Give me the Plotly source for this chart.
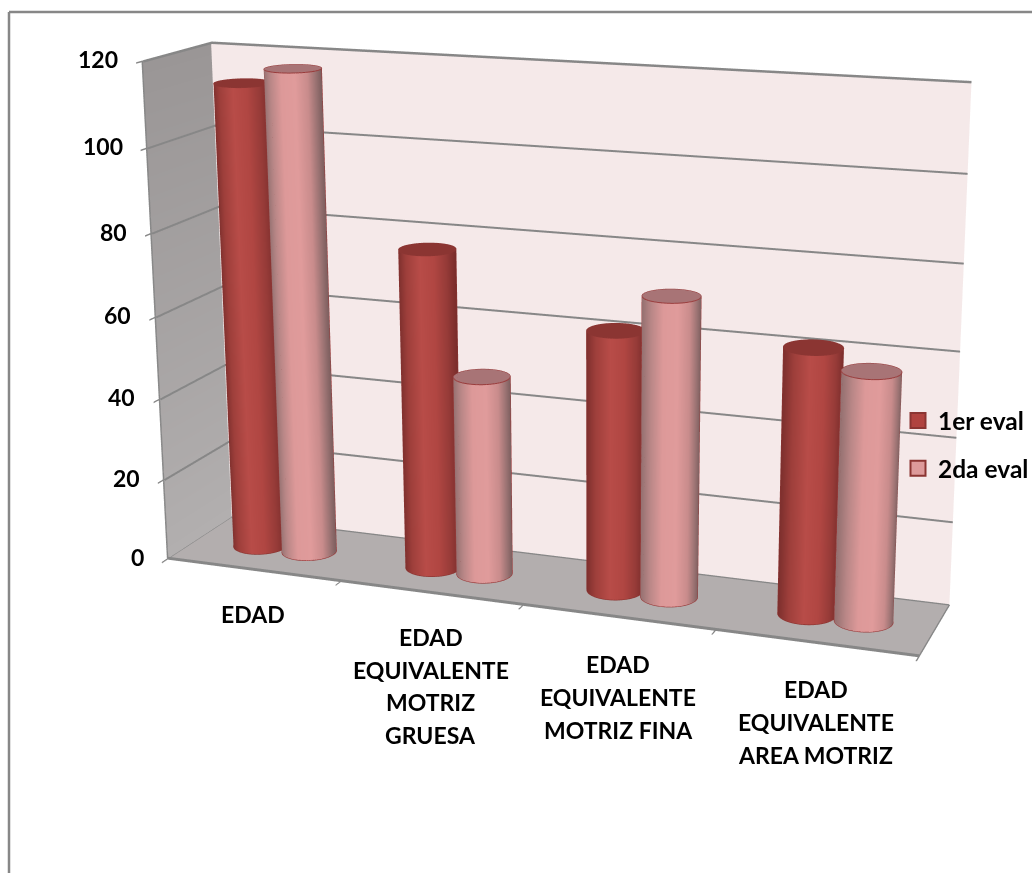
import numpy as np
import plotly.graph_objects as go

categories = ["EDAD", "EDAD<br>EQUIVALENTE<br>MOTRIZ<br>GRUESA",
              "EDAD<br>EQUIVALENTE<br>MOTRIZ FINA", "EDAD<br>EQUIVALENTE<br>AREA MOTRIZ"]
eval_1 = [113.5, 77.5, 62.2, 62.4]
eval_2 = [117.5, 48.3, 71.3, 58.2]
series_names = ["1er eval", "2da eval"]
z_ticks = [0, 20, 40, 60, 80, 100, 120]

# A long lens needs a canvas larger than the page; the div is offset so the
# visible part of the canvas is the 1032x873 window.
W, H = 2000, 2000
LEFT, TOP = 404, 625
EYE = [1.571, -4.147, 1.166]
CENTER = [0.095, 0.011, -0.075]
ASPECT_X, ASPECT_Y = 1.529, 0.272
UP_X = -0.001


def px(x):
    return (x + LEFT) / W


def py(y):
    return 1 - (y + TOP) / H


FLAT = dict(ambient=1, diffuse=0, specular=0, fresnel=0)
GRID = "#878787"
R = 0.0358 * ASPECT_X
dx = R / (ASPECT_X / 4)
dy = R / ASPECT_Y
th = np.linspace(0, 2 * np.pi, 181)
view = np.arctan2(EYE[1] - CENTER[1], EYE[0] - CENTER[0])

fig = go.Figure()


def line3d(x, y, z, color=GRID, width=4):
    fig.add_scatter3d(x=x, y=y, z=z, mode="lines", line=dict(color=color, width=width),
                      hoverinfo="skip", showlegend=False)


def cylinder(cx, cy, value, stops, top, edge):
    """One bar: shaded side, flat cap, rim lines and silhouette lines."""
    ring_x = cx + dx * np.cos(th)
    ring_y = cy + dy * np.sin(th)
    shade = np.sin(th - view)
    fig.add_surface(x=np.vstack([ring_x, ring_x]), y=np.vstack([ring_y, ring_y]),
                    z=np.outer([0, value], np.ones(len(th))),
                    surfacecolor=np.vstack([shade, shade]), cmin=-1, cmax=1,
                    colorscale=stops, showscale=False, lighting=FLAT, hoverinfo="skip")
    rr = np.array([0.0, 1.0])
    fig.add_surface(x=cx + np.outer(rr, dx * np.cos(th)), y=cy + np.outer(rr, dy * np.sin(th)),
                    z=np.full((2, len(th)), value), surfacecolor=np.zeros((2, len(th))),
                    colorscale=[[0, top], [1, top]], showscale=False, lighting=FLAT, hoverinfo="skip")
    for level in (value, 0):
        line3d(ring_x, ring_y, np.full(len(th), level), edge, 2)
    for side in (view - np.pi / 2, view + np.pi / 2):
        line3d([cx + dx * np.cos(side)] * 2, [cy + dy * np.sin(side)] * 2, [0, value], edge, 2)


# Left wall with its vertical gradient
zz = np.array([[0.0, 0.0], [120.0, 120.0]])
fig.add_surface(x=np.zeros((2, 2)), y=np.array([[0, 1], [0, 1]]), z=zz, surfacecolor=zz, cmin=0, cmax=120,
                colorscale=[[0, "#b2afaf"], [1, "#9a9696"]], showscale=False, lighting=FLAT, hoverinfo="skip")

# Gridlines along the left and back walls, plus the outer edges of the box
for t in z_ticks[1:-1]:
    line3d([0.006, 0.006, 4], [0, 0.997, 0.997], [t, t, t])
line3d([0.006, 0.006, 4], [0, 0.997, 0.997], [120, 120, 120], GRID, 5)
line3d([0, 4], [0.003, 0.003], [0.2, 0.2], GRID, 5)

stops_1 = [[0, "#7e302e"], [0.15, "#9e3f3b"], [0.4, "#b84c48"], [0.65, "#b04642"], [0.85, "#963b38"], [1, "#7a2d2b"]]
stops_2 = [[0, "#957171"], [0.15, "#b98787"], [0.35, "#dd9999"], [0.6, "#e09b9b"], [0.8, "#c98c8c"],
           [0.93, "#9a7272"], [1, "#7f6060"]]
for i in range(len(categories)):
    cylinder(i + 0.362, 0.5, eval_1[i], stops_1, "#8b3532", "#8b3532")
    cylinder(i + 0.648, 0.5, eval_2[i], stops_2, "#a87476", "#993c3c")

# Legend entries
for name, col in zip(series_names, ["#b0433f", "#dd9a9a"]):
    fig.add_scatter3d(x=[None], y=[None], z=[None], mode="markers", name=name, legendgroup=name,
                      marker=dict(symbol="square", size=15, color=col, line=dict(color="#8b3532", width=2)))

F = dict(family="Lato", size=23, color="black", weight="bold")
labels = [dict(x=0, y=0, z=t, text=str(t), showarrow=False, xanchor="right", xshift=-22, yshift=2, font=F)
          for t in z_ticks]
# Category labels are set line by line for a looser leading than <br> gives
label_drop = [28, 28, 31, 30]
LEADING = 32.7
for i, c in enumerate(categories):
    for j, part in enumerate(c.split("<br>")):
        labels.append(dict(x=i + 0.5, y=0, z=0, text=part, showarrow=False, yanchor="top",
                           yshift=-label_drop[i] - LEADING * j, font=F))

axis = dict(showticklabels=False, title="", showspikes=False, zeroline=False, showgrid=False,
            showline=True, linecolor=GRID, linewidth=3)
fig.update_layout(
    width=W, height=H, margin=dict(l=0, r=0, t=0, b=0), paper_bgcolor="white",
    scene=dict(
        domain=dict(x=[0, 1], y=[0, 1]), aspectmode="manual",
        aspectratio=dict(x=ASPECT_X, y=ASPECT_Y, z=1),
        camera=dict(eye=dict(x=EYE[0], y=EYE[1], z=EYE[2]),
                    center=dict(x=CENTER[0], y=CENTER[1], z=CENTER[2]),
                    up=dict(x=UP_X, y=0, z=1), projection=dict(type="perspective")),
        xaxis=dict(axis, range=[0, 4], tickvals=[0, 1, 2, 3, 4], ticks="outside", ticklen=10, tickwidth=3,
                   tickcolor=GRID, showbackground=True, backgroundcolor="#a6a2a2"),
        yaxis=dict(axis, range=[0, 1], tickvals=[], showbackground=True, backgroundcolor="#f5e9e9"),
        zaxis=dict(axis, range=[0, 120], tickvals=z_ticks, showgrid=True, gridcolor=GRID, gridwidth=3,
                   ticks="outside", ticklen=10, tickwidth=3, tickcolor=GRID,
                   showbackground=True, backgroundcolor="#b3aeae"),
        annotations=labels),
    legend=dict(x=px(898), y=py(398), yanchor="top", bgcolor="rgba(0,0,0,0)", font=dict(F, size=24.5),
                tracegroupgap=13),
    shapes=[dict(type="line", xref="paper", yref="paper", x0=px(9), x1=px(9), y0=py(12), y1=py(873),
                 line=dict(color=GRID, width=2.5)),
            dict(type="line", xref="paper", yref="paper", x0=px(9), x1=px(1032), y0=py(12), y1=py(12),
                 line=dict(color=GRID, width=2.5))])

post = ("var g=document.getElementById('{plot_id}');g.style.position='absolute';"
        f"g.style.left='-{LEFT}px';g.style.top='-{TOP}px';"
        "document.documentElement.style.overflow='hidden';document.body.style.overflow='hidden';")
fig.write_html("out.html", post_script=post)
